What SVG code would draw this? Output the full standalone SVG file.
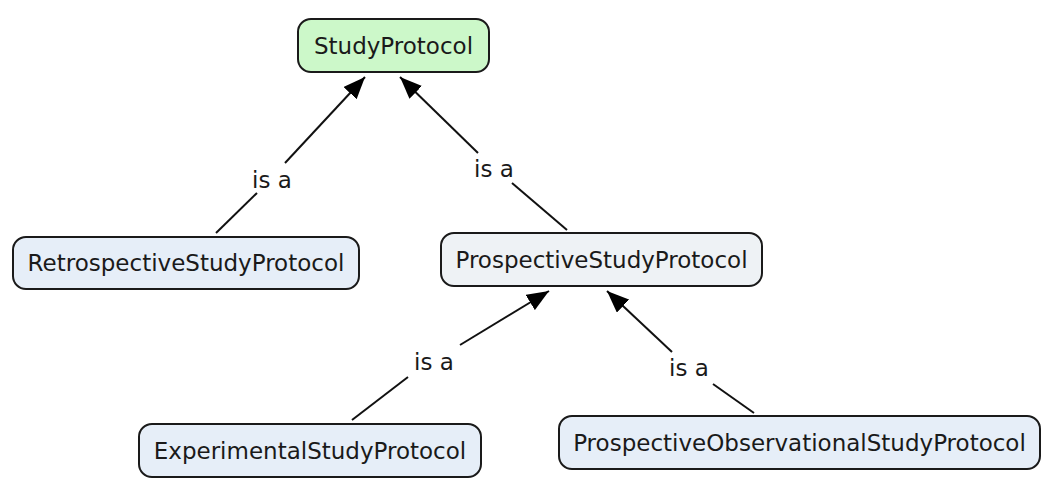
<svg xmlns="http://www.w3.org/2000/svg" width="1050" height="488" viewBox="0 0 1050 488">
<style>
.node rect{stroke:#1a1a1a;stroke-width:2}
.node text,.lbl{font-family:"DejaVu Sans",Verdana,sans-serif;font-size:23px;fill:#1a1a1a;text-anchor:middle}
.edge{stroke:#111;stroke-width:2;fill:none}
</style>
<defs>
<marker id="ah" markerUnits="userSpaceOnUse" markerWidth="22" markerHeight="18" refX="22" refY="9" orient="auto">
<path d="M0,0 L22,9 L0,18 z" fill="#000"/>
</marker>
</defs>
<rect width="1050" height="488" fill="#fff"/>
<g id="connectors">
<line class="edge" x1="216" y1="233" x2="257" y2="193"/>
<line class="edge" x1="285" y1="163" x2="365" y2="77" marker-end="url(#ah)"/>
<text class="lbl" x="272" y="188">is a</text>
<line class="edge" x1="567" y1="230" x2="512" y2="183"/>
<line class="edge" x1="478" y1="153" x2="400" y2="77" marker-end="url(#ah)"/>
<text class="lbl" x="494" y="177">is a</text>
<line class="edge" x1="352" y1="420" x2="408" y2="377"/>
<line class="edge" x1="460" y1="345" x2="549" y2="291" marker-end="url(#ah)"/>
<text class="lbl" x="434" y="370">is a</text>
<line class="edge" x1="754" y1="413" x2="713" y2="384"/>
<line class="edge" x1="672" y1="352" x2="607" y2="291" marker-end="url(#ah)"/>
<text class="lbl" x="689" y="376">is a</text>
</g>
<g id="n-study" class="node">
<rect x="298" y="19" width="191" height="53" rx="13" fill="#ccf8c9"/>
<text x="393.5" y="54">StudyProtocol</text>
</g>
<g id="n-retro" class="node">
<rect x="13" y="237" width="346" height="52" rx="13" fill="#e6eef8"/>
<text x="186" y="271">RetrospectiveStudyProtocol</text>
</g>
<g id="n-prosp" class="node">
<rect x="441" y="233" width="321" height="53" rx="13" fill="#eef2f5"/>
<text x="601.5" y="268">ProspectiveStudyProtocol</text>
</g>
<g id="n-exp" class="node">
<rect x="139" y="424" width="342" height="53" rx="13" fill="#e6eef8"/>
<text x="310" y="459">ExperimentalStudyProtocol</text>
</g>
<g id="n-obs" class="node">
<rect x="559" y="416" width="481" height="53" rx="13" fill="#e6eef8"/>
<text x="799.5" y="451">ProspectiveObservationalStudyProtocol</text>
</g>
</svg>
